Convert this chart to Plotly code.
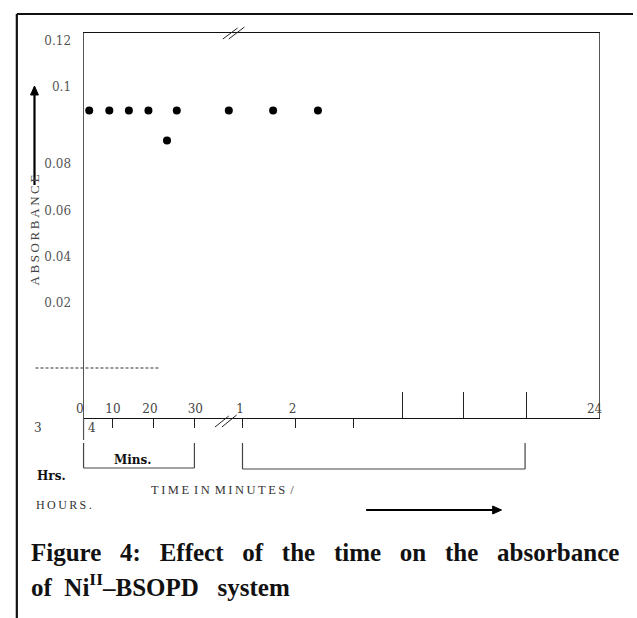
import plotly.graph_objects as go

# ---------------- data ----------------
# x is the position along the (broken, hand-drawn) time axis in axis units:
# 0 = origin of the axis, 100 = the "24" end of the axis.
time_pos = [-8.4, 1.1, 5.0, 8.8, 12.6, 16.2, 18.1, 28.2, 36.8, 45.5]
absorbance = [0.077, 0.090, 0.090, 0.090, 0.090, 0.077, 0.090, 0.090, 0.090, 0.090]

# ticks of the time axis (axis units)
x_down_ticks = [0, 5.71, 13.52, 21.52, 30.86, 41.14, 52.38]
x_up_ticks = [61.9, 73.71, 85.9]
x_label_pos = [0.0, 5.71, 12.9, 21.7, 30.4, 40.6, 99.2]
x_labels = ["0\u2007", "10", "20", "30", "1", "2", "24"]

# y tick labels as printed (positions in axis units)
y_tick_vals = [0.12, 0.10013, 0.066868, 0.046566, 0.026695, 0.006825]
y_tick_text = ["0.12", "0.1", "0.08", "0.06", "0.04", "0.02"]

W, H = 637, 618
SERIF = "DejaVu Serif, serif"
TIMES = "Liberation Serif, serif"


def px(x):
    return x / W


def py(y):
    return 1 - y / H


fig = go.Figure()
fig.add_trace(go.Scatter(
    x=time_pos, y=absorbance, mode="markers",
    marker=dict(size=8, color="black"),
    cliponaxis=False, showlegend=False, hoverinfo="skip"))
fig.add_trace(go.Scatter(x=[None], y=[None], xaxis="x2", yaxis="y",
                         showlegend=False, hoverinfo="skip"))

fig.update_layout(
    width=W, height=H,
    margin=dict(l=0, r=0, t=0, b=0),
    paper_bgcolor="white", plot_bgcolor="white",
    showlegend=False,
    xaxis=dict(
        domain=[px(77), px(602)], range=[0, 100],
        showline=True, linecolor="#111", linewidth=1.3, mirror=True,
        ticks="outside", ticklen=9, tickwidth=1.3, tickcolor="#222",
        tickmode="array", tickvals=x_down_ticks, showticklabels=False,
        minor=dict(tickmode="array", tickvals=x_up_ticks, ticks="inside",
                   ticklen=26, tickwidth=1.2, tickcolor="#222", showgrid=False),
        showgrid=False, zeroline=False, fixedrange=True),
    xaxis2=dict(
        overlaying="x", anchor="y", domain=[px(77), px(602)], range=[0, 100],
        showline=False, ticks="", tickmode="array", tickvals=x_label_pos,
        ticktext=x_labels, ticklabelposition="inside", side="bottom",
        ticklabeloverflow="allow",
        tickfont=dict(family=SERIF, size=12, color="#444"),
        showgrid=False, zeroline=False),
    yaxis=dict(
        domain=[py(418), py(33)], range=[-0.042851, 0.123456],
        showline=True, linecolor="#555", linewidth=1.2, mirror=True,
        ticks="", tickmode="array", tickvals=y_tick_vals, ticktext=y_tick_text,
        ticklabelstandoff=9,
        tickfont=dict(family=SERIF, size=12, color="#555"),
        showgrid=False, zeroline=False),
)


def line(x0, y0, x1, y1, width=1.2, color="#222", dash=None):
    fig.add_shape(type="line", xref="paper", yref="paper",
                  x0=px(x0), y0=py(y0), x1=px(x1), y1=py(y1),
                  line=dict(color=color, width=width, dash=dash))


def tri(points):
    path = "M " + " L ".join(f"{px(a):.5f},{py(b):.5f}" for a, b in points) + " Z"
    fig.add_shape(type="path", xref="paper", yref="paper", path=path,
                  fillcolor="black", line=dict(color="black", width=1))


# outer frame
line(9, 14, 637, 14, width=2.2, color="#111")
line(9, 14, 9, 618, width=2.2, color="#111")
# extension of the left axis line below the time axis
line(77, 418, 77, 440, color="#555")
# dashed line
line(28, 368, 155, 368, width=1.2, color="#333", dash="3px,2px")
# axis break marks
line(219, 39, 234, 28, width=1)
line(225, 39, 241, 27, width=1)
line(211, 427, 225, 416, width=1)
line(218, 427, 233, 415, width=1)
# brackets
line(77, 443, 77, 468, color="#444")
line(77, 468, 190, 468, color="#444")
line(190, 443, 190, 468, color="#444")
line(239, 443, 239, 469, color="#444")
line(239, 469, 527, 469, color="#444")
line(527, 443, 527, 469, color="#444")
# arrows
line(27, 185, 27, 93, width=2.2, color="black")
tri([(23, 95), (31, 95), (27, 86)])
line(365, 510, 495, 510, width=2.2, color="black")
tri([(494, 506), (494, 514), (503, 510)])


def text(x, y, s, size=12, color="#444", bold=False, xanchor="center",
         angle=0, family=SERIF):
    if bold:
        s = "<b>" + s + "</b>"
    fig.add_annotation(xref="paper", yref="paper", x=px(x), y=py(y), text=s,
                       showarrow=False, xanchor=xanchor, yanchor="middle",
                       textangle=angle,
                       font=dict(family=family, size=size, color=color))


TS = "\u2009"
text(27, 230, TS.join("ABSORBANCE"), size=13, color="#444", angle=-90,
     family=TIMES)
text(31, 428, "3")
text(86, 428, "4")
text(127, 460, "Mins.", size=12, color="#111", bold=True)
text(44, 476, "Hrs.", size=12, color="#111", bold=True)
text(219, 490, (TS * 2).join(TS.join(w) for w in ["TIME", "IN", "MINUTES", "/"]),
     size=12.5, color="#333", family=TIMES)
text(27, 505, TS.join("HOURS."), size=12, color="#333", xanchor="left",
     family=TIMES)

SP = "\u00a0"
words1 = ["Figure", "4:", "Effect", "of", "the", "time", "on", "the", "absorbance"]
gaps1 = [3, 3, 3, 3, 3, 3, 3, 3]
cap1 = words1[0] + "".join(SP * g + w for g, w in zip(gaps1, words1[1:]))
cap2 = "of" + SP * 2 + "Ni<sup>II</sup>\u2013BSOPD" + SP * 3 + "system"
text(21, 552, cap1, size=25, color="#111", bold=True, xanchor="left",
     family=TIMES)
text(21, 585, cap2, size=25, color="#111", bold=True, xanchor="left",
     family=TIMES)

fig.write_html("out.html", config={"displayModeBar": False},
               post_script="document.body.style.margin='0px';")
